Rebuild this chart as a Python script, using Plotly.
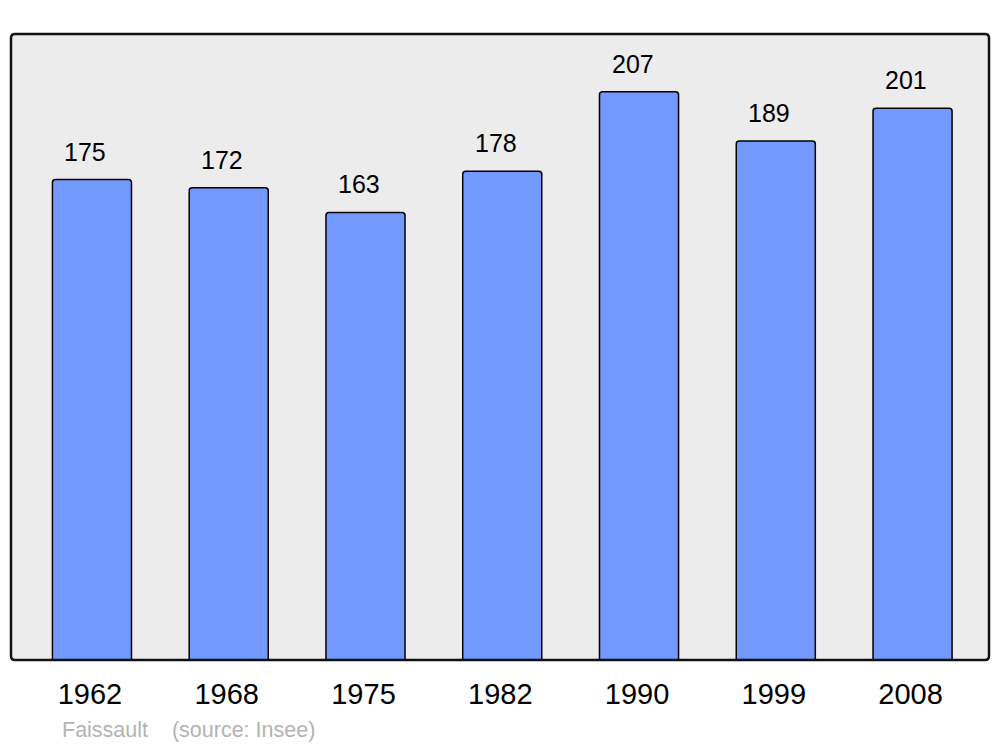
import plotly.graph_objects as go

years = ["1962", "1968", "1975", "1982", "1990", "1999", "2008"]
population = [175, 172, 163, 178, 207, 189, 201]
title_text = "Faissault\u00a0\u00a0\u00a0\u00a0(source: Insee)"

W, H = 1000, 747
ml, mr, mt, mb = 11, 11, 34, 87
FONT = "Liberation Sans, Arial, sans-serif"

fig = go.Figure()
fig.add_trace(go.Bar(
    x=list(range(len(years))), y=population, width=0.578,
    marker=dict(color="#7399ff", line=dict(color="black", width=1.5), cornerradius=3),
    hovertext=years, hoverinfo="text+y",
))

for i, v in enumerate(population):
    fig.add_annotation(x=i, y=v, text=str(v), showarrow=False, yanchor="middle",
                       yshift=28, xshift=-6.5, font=dict(size=25, color="black", family=FONT))

fig.add_annotation(xref="paper", yref="paper", x=(60 - ml) / (W - ml - mr), y=-(730 - 660) / (H - mt - mb),
                   text=title_text, showarrow=False, xanchor="left", yanchor="middle",
                   font=dict(size=21.5, color="#b3b3b3", family=FONT))

# rounded border of plot area
pw, ph = W - ml - mr, H - mt - mb
rx, ry = 4 / pw, 4 / ph
path = (f"M {rx},0 L {1-rx},0 Q 1,0 1,{ry} L 1,{1-ry} Q 1,1 {1-rx},1 L {rx},1 Q 0,1 0,{1-ry} "
        f"L 0,{ry} Q 0,0 {rx},0 Z")
fig.add_shape(type="path", xref="paper", yref="paper", path=path,
              line=dict(color="#111111", width=2.5), layer="above")

fig.update_layout(
    width=W, height=H,
    margin=dict(l=ml, r=mr, t=mt, b=mb),
    paper_bgcolor="white", plot_bgcolor="#ececec",
    showlegend=False,
    font=dict(family=FONT, color="black"),
    xaxis=dict(range=[-0.592, 6.559], showgrid=False, zeroline=False,
               tickmode="array", tickvals=list(range(len(years))), ticktext=years,
               showline=False, ticks="", tickfont=dict(size=29), ticklabelstandoff=14,
               ticklabelshift=-2),
    yaxis=dict(range=[0, 228], showgrid=False, zeroline=False, showticklabels=False,
               showline=False, ticks=""),
)

fig.write_html("out.html", config={"displayModeBar": False},
               post_script="document.body.style.margin='0';document.body.style.overflow='hidden';")
